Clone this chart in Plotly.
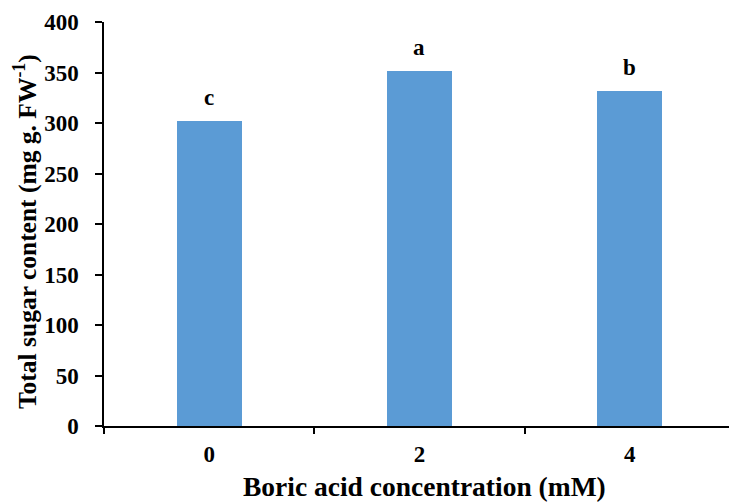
import plotly.graph_objects as go

categories = ["0", "2", "4"]
values = [302, 351, 332]
letters = ["c", "a", "b"]
y_ticks = [0, 50, 100, 150, 200, 250, 300, 350, 400]
x_title = "Boric acid concentration (mM)"
y_title = "Total sugar content (mg g. FW<sup>-1</sup>)"

FONT = "Liberation Serif, Times New Roman, serif"

fig = go.Figure()
fig.add_trace(go.Bar(
    x=categories, y=values, width=0.31,
    marker=dict(color="#5B9BD5", line=dict(width=0)),
))

for i, (v, t) in enumerate(zip(values, letters)):
    fig.add_annotation(x=i, y=v, xref="x", yref="y", text=f"<b>{t}</b>", showarrow=False,
                       yanchor="bottom", yshift=9,
                       font=dict(family=FONT, size=23, color="black"))

fig.add_annotation(x=0.512, y=-0.194, xref="paper", yref="paper",
                   text=f"<b>{x_title}</b>", showarrow=False,
                   xanchor="center", yanchor="bottom",
                   font=dict(family=FONT, size=27.5, color="black"))
fig.add_annotation(x=-0.1264, y=0.48, xref="paper", yref="paper",
                   text=f"<b>{y_title}</b>", showarrow=False, textangle=-90,
                   xanchor="center", yanchor="middle",
                   font=dict(family=FONT, size=25.5, color="black"))

fig.update_layout(
    width=729, height=504, autosize=False,
    margin=dict(l=104, r=0, t=22, b=78),
    plot_bgcolor="white", paper_bgcolor="white",
    showlegend=False, bargap=0,
    font=dict(family=FONT, color="black"),
)
fig.update_xaxes(
    type="category", range=[-0.5, 2.472],
    tickson="boundaries", ticks="outside", ticklen=6, tickwidth=1.5, tickcolor="black",
    showline=True, linecolor="black", linewidth=1.5,
    showgrid=False, zeroline=False,
    tickvals=categories, ticktext=[f"<b>{c}</b>" for c in categories],
    tickfont=dict(family=FONT, size=23, color="black"),
    ticklabelstandoff=7,
)
fig.update_yaxes(
    range=[0, 400], tickvals=y_ticks, ticktext=[f"<b>{v}</b>" for v in y_ticks],
    ticks="outside", ticklen=7, tickwidth=1.5, tickcolor="black",
    showline=True, linecolor="black", linewidth=1.5,
    showgrid=False, zeroline=False,
    tickfont=dict(family=FONT, size=23, color="black"),
    ticklabelstandoff=12,
)

fig.write_html("out.html")
